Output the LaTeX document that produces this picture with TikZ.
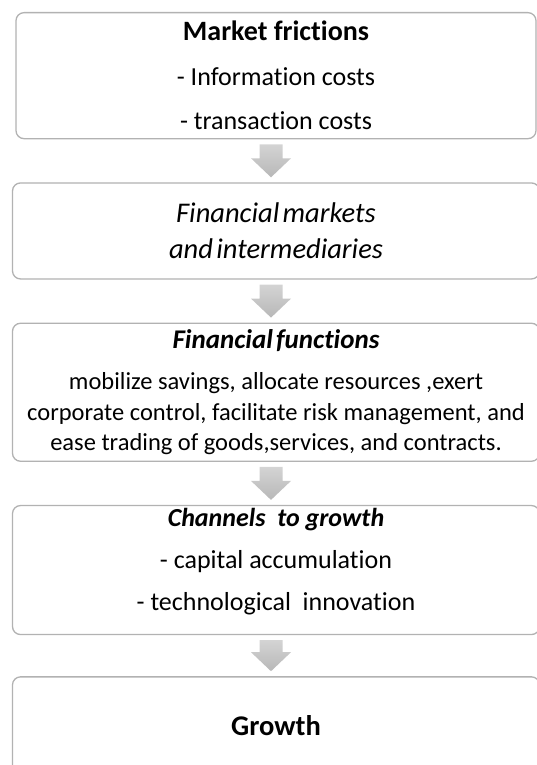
\documentclass[tikz,border=0pt]{standalone}
\usepackage{fontspec}
\setmainfont{Carlito}[Ligatures=NoCommon]
\usetikzlibrary{positioning, calc}

\begin{document}
\begin{tikzpicture}[
    node distance=43pt,
    stagebox/.style={rectangle, draw=black!30, line width=1.3pt, rounded corners=8pt, fill=white,
      minimum width=527pt, align=center, inner sep=0pt},
    flowarrow/.style={top color=black!17, bottom color=black!28, draw=none}
  ]
  \useasboundingbox (0,0) rectangle (537pt,-765pt);
  \coordinate (axis) at (271pt,0);

  \node[stagebox, anchor=north, minimum width=520pt, minimum height=126pt,
        font=\fontsize{26}{44.5}\selectfont] (fric) at (276pt,-12pt)
    {{\fontsize{28}{28}\selectfont\bfseries Market frictions}\\- Information\ costs\\- transaction costs};
  \node[stagebox, below=of fric, minimum height=96pt,
        font=\fontsize{28.5}{36}\selectfont\itshape] (mkts)
    {Financial\hspace{0.12em}markets\\and\hspace{0.12em}intermediaries};
  \node[stagebox, below=of mkts, minimum height=138pt,
        font=\fontsize{24.5}{29}\selectfont] (func)
    {{\fontsize{27}{27}\selectfont\bfseries\itshape Financial\hspace{0.12em}functions}\\[12pt]
     mobilize savings, allocate resources ,exert\\[1.5pt]
     corporate control, facilitate risk management, and\\[1.5pt]
     ease trading of goods,services, and contracts.};
  \node[stagebox, below=of func, minimum height=129pt, text depth=22pt,
        font=\fontsize{26}{42}\selectfont] (chan)
    {\textbf{\itshape Channels\ \ to growth}\\- capital accumulation\\- technological\ \ innovation};
  \node[stagebox, below=41pt of chan, minimum height=98pt,
        font=\fontsize{28.5}{30}\selectfont\bfseries] (grow)
    {Growth};

  % block arrows between the stages
  \foreach \a/\b in {fric/mkts, mkts/func, func/chan, chan/grow}
    \shade[flowarrow] let \p1 = ($(\a.south -| axis)+(0,-5pt)$),
                          \p2 = ($(\b.north -| axis)+(0,5pt)$) in
      (\x1-11.5pt,\y1) -- (\x1+11.5pt,\y1) -- (\x1+11.5pt,\y2+19pt) -- (\x1+20pt,\y2+19pt)
      -- (\x2,\y2) -- (\x1-20pt,\y2+19pt) -- (\x1-11.5pt,\y2+19pt) -- cycle;
\end{tikzpicture}
\end{document}
